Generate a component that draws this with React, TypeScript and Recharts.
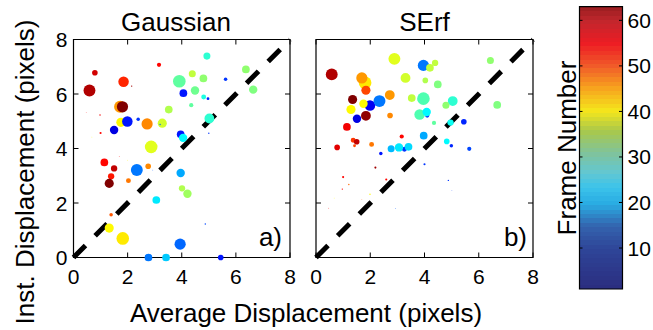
import React from "react";
import {
  ScatterChart,
  Scatter,
  XAxis,
  YAxis,
  ZAxis,
  Cell,
  ReferenceLine,
  ReferenceArea,
  BarChart,
  Bar,
} from "recharts";

// axes
const AXIS_TICKS = [0, 2, 4, 6, 8];
const FRAME_TICKS = [10, 20, 30, 40, 50, 60];
const FRAME_MIN = 1;
const FRAME_MAX = 63;

// Gaussian fit: average vs instantaneous displacement, marker amplitude, frame
const gaussX = [0.79, 0.59, 1.85, 3.16, 2.15, 0.47, 0.98, 1.0, 0.68, 1.72, 1.81, 1.75, 1.99, 2.39, 1.5, 2.72, 3.28, 3.2, 3.52, 3.91, 4.39, 4.8, 4.93, 5.62, 6.37, 6.64, 4.06, 4.49, 4.81, 4.97, 4.35, 5.02, 3.96, 4.05, 5.0, 2.87, 1.69, 1.99, 1.14, 1.5, 1.39, 1.32, 2.03, 2.34, 2.76, 2.93, 3.96, 4.01, 4.21, 3.06, 1.39, 1.32, 1.82, 3.94, 4.87, 2.77, 3.42, 5.44];
const gaussY = [6.78, 6.13, 6.45, 7.07, 6.29, 5.33, 5.23, 4.57, 4.42, 5.53, 5.53, 4.96, 4.99, 5.07, 4.68, 4.9, 4.93, 4.88, 5.43, 6.47, 6.74, 6.57, 7.39, 6.54, 6.9, 6.16, 6.03, 6.13, 5.89, 5.83, 5.59, 5.1, 4.52, 4.39, 4.56, 4.06, 3.71, 3.57, 3.49, 3.27, 2.98, 2.72, 2.82, 3.21, 3.35, 3.21, 3.1, 2.54, 2.34, 2.11, 1.57, 1.08, 0.7, 0.49, 1.23, 0.0, 0.0, 0.0];
const gaussAmp = [64, 289, 225, 36, 4, 1, 4, 9, 1, 289, 256, 169, 225, 25, 144, 256, 169, 4, 121, 324, 100, 121, 100, 25, 121, 144, 121, 144, 49, 16, 36, 196, 121, 144, 4, 324, 1, 1, 121, 81, 81, 169, 49, 289, 64, 1, 144, 81, 144, 121, 25, 169, 324, 256, 4, 121, 121, 64];
const gaussFrame = [58, 60, 53, 55, 61, 55, 56, 55, 40, 46, 63, 40, 10, 12, 7, 47, 37, 15, 35, 30, 36, 33, 27, 12, 33, 32, 10, 31, 26, 11, 30, 27, 10, 24, 12, 38, 55, 40, 55, 59, 54, 63, 48, 16, 47, 14, 19, 35, 34, 23, 50, 40, 41, 15, 13, 16, 21, 10];

// SErf fit
const serfX = [0.58, 1.81, 1.69, 1.84, 2.89, 3.96, 4.2, 4.39, 3.3, 4.03, 4.49, 6.43, 6.68, 1.35, 1.99, 2.34, 1.75, 2.72, 1.29, 1.51, 1.84, 1.14, 3.53, 3.96, 4.1, 3.82, 4.08, 5.04, 4.79, 4.35, 4.96, 5.45, 2.73, 3.16, 1.37, 1.5, 1.42, 0.78, 2.05, 3.97, 2.77, 3.26, 3.06, 3.41, 4.82, 4.99, 5.65, 2.39, 2.19, 4.0, 1.0, 2.59, 1.21, 0.97, 1.99, 1.69, 0.67, 0.47, 2.93, 4.88, 5.01];
const serfY = [6.72, 6.41, 6.59, 6.14, 7.29, 7.05, 6.96, 7.14, 6.59, 6.5, 6.35, 7.23, 5.6, 5.8, 5.58, 5.74, 5.64, 5.96, 5.43, 5.09, 5.2, 4.79, 5.85, 5.83, 5.21, 5.25, 5.34, 5.74, 5.59, 4.94, 4.95, 4.98, 5.21, 4.44, 4.3, 4.25, 4.1, 4.04, 4.15, 4.47, 3.99, 3.97, 4.04, 4.06, 4.26, 4.1, 3.99, 3.82, 3.3, 3.42, 2.95, 2.86, 2.68, 2.51, 2.32, 2.12, 2.18, 1.81, 1.79, 2.83, 2.45];
const serfAmp = [289, 324, 256, 169, 289, 256, 121, 81, 196, 64, 121, 100, 121, 169, 225, 289, 144, 196, 169, 144, 196, 121, 121, 324, 36, 225, 144, 196, 100, 36, 81, 64, 64, 36, 49, 64, 16, 64, 49, 121, 100, 49, 144, 121, 64, 25, 36, 25, 9, 9, 9, 9, 4, 4, 4, 1, 1, 1, 1, 4, 1];
const serfFrame = [60, 41, 46, 51, 38, 16, 36, 36, 37, 35, 32, 33, 32, 63, 8, 16, 40, 46, 40, 7, 62, 56, 36, 29, 12, 29, 24, 27, 33, 30, 25, 11, 47, 55, 52, 59, 51, 57, 48, 19, 20, 12, 23, 22, 24, 11, 13, 10, 61, 12, 55, 55, 49, 55, 40, 50, 40, 55, 14, 12, 12];

const FONT = '"Liberation Sans", Arial, Helvetica, sans-serif';
const TICK_FS = 21;
const LABEL_FS = 26;
const PLOT_TOP = 39.5;
const PLOT_BOTTOM = 257.5;
const TICK_LEN = 5;

// MATLAB jet
function jet(frame: number) {
  const t = (frame - FRAME_MIN) / (FRAME_MAX - FRAME_MIN);
  const f = (c: number) =>
    Math.round(255 * Math.min(1, Math.max(0, 1.5 - Math.abs(4 * t - c))));
  return `rgb(${f(3)},${f(2)},${f(1)})`;
}

// the printed colorbar is a bit washed out compared to the markers
const CB_ANCHORS: [number, string][] = [
  [0, "#2b2d7f"],
  [0.14, "#2e4598"],
  [0.22, "#3462ad"],
  [0.3, "#29abe2"],
  [0.36, "#3cc3ea"],
  [0.41, "#62c7d2"],
  [0.48, "#7fc39c"],
  [0.56, "#a9c84b"],
  [0.63, "#f4e61c"],
  [0.71, "#f7a51e"],
  [0.79, "#f15a29"],
  [0.87, "#ed1c24"],
  [0.95, "#c1272d"],
  [1, "#9a1d20"],
];

function hexToRgb(h: string) {
  return [1, 3, 5].map((i) => parseInt(h.slice(i, i + 2), 16));
}

function cbColor(t: number) {
  let i = 0;
  while (i < CB_ANCHORS.length - 2 && t > CB_ANCHORS[i + 1][0]) i++;
  const [t0, c0] = CB_ANCHORS[i];
  const [t1, c1] = CB_ANCHORS[i + 1];
  const k = Math.min(1, Math.max(0, (t - t0) / (t1 - t0)));
  const a = hexToRgb(c0);
  const b = hexToRgb(c1);
  const m = a.map((v, j) => Math.round(v + (b[j] - v) * k));
  return `rgb(${m[0]},${m[1]},${m[2]})`;
}

const CB_STEPS = 64;

const toRows = (xs: number[], ys: number[], amp: number[], frames: number[]) =>
  xs.map((x, i) => ({ x, y: ys[i], z: amp[i], frame: frames[i] }));

const gaussRows = toRows(gaussX, gaussY, gaussAmp, gaussFrame);
const serfRows = toRows(serfX, serfY, serfAmp, serfFrame);

type PanelProps = {
  rows: { x: number; y: number; z: number; frame: number }[];
  left: number;
  marginLeft: number;
  marginRight: number;
  showYLabels: boolean;
};

function Panel({ rows, left, marginLeft, marginRight, showYLabels }: PanelProps) {
  const width = 300;
  const plotLeft = marginLeft + 60;
  const plotRight = width - marginRight;

  const xTick = (p: any) => (
    <g>
      <line x1={p.x} x2={p.x} y1={PLOT_BOTTOM} y2={PLOT_BOTTOM - TICK_LEN} stroke="#000" />
      <line x1={p.x} x2={p.x} y1={PLOT_TOP} y2={PLOT_TOP + TICK_LEN} stroke="#000" />
      <text x={p.x} y={PLOT_BOTTOM + 26} textAnchor="middle" fontSize={TICK_FS} fill="#000">
        {p.payload.value}
      </text>
    </g>
  );

  const yTick = (p: any) => (
    <g>
      <line x1={plotLeft} x2={plotLeft + TICK_LEN} y1={p.y} y2={p.y} stroke="#000" />
      <line x1={plotRight} x2={plotRight - TICK_LEN} y1={p.y} y2={p.y} stroke="#000" />
      {showYLabels && (
        <text x={plotLeft - 6} y={p.y + 7.5} textAnchor="end" fontSize={TICK_FS} fill="#000">
          {p.payload.value}
        </text>
      )}
    </g>
  );

  return (
    <div style={{ position: "absolute", left, top: 0 }}>
      <ScatterChart
        width={width}
        height={300}
        margin={{ top: PLOT_TOP, right: marginRight, bottom: 12.5, left: marginLeft }}
        style={{ fontFamily: FONT }}
      >
        <XAxis
          type="number"
          dataKey="x"
          domain={[0, 8]}
          ticks={AXIS_TICKS}
          height={30}
          axisLine={false}
          tickLine={false}
          tick={xTick}
        />
        <YAxis
          type="number"
          dataKey="y"
          domain={[0, 8]}
          ticks={AXIS_TICKS}
          width={60}
          axisLine={false}
          tickLine={false}
          tick={yTick}
        />
        <ZAxis type="number" dataKey="z" domain={[0, 324]} range={[0, 125]} />
        <ReferenceArea
          x1={0}
          x2={8}
          y1={0}
          y2={8}
          fill="none"
          fillOpacity={0}
          stroke="#000"
          strokeWidth={1.2}
        />
        <Scatter data={rows} shape="circle" isAnimationActive={false}>
          {rows.map((r, i) => (
            <Cell key={i} fill={jet(r.frame)} />
          ))}
        </Scatter>
        <ReferenceLine
          segment={[
            { x: 0, y: 0 },
            { x: 8, y: 8 },
          ]}
          stroke="#000"
          strokeWidth={5}
          strokeDasharray="17 13.7"
        />
      </ScatterChart>
    </div>
  );
}

function ColorBar() {
  const data = [{ name: "frames", range: [FRAME_MIN, FRAME_MAX] }];
  const barLeft = 19.5;
  const barRight = 62;
  const stops: React.ReactNode[] = [];
  for (let i = 0; i < CB_STEPS; i++) {
    const c = cbColor(1 - (i + 0.5) / CB_STEPS);
    stops.push(<stop key={`a${i}`} offset={i / CB_STEPS} stopColor={c} />);
    stops.push(<stop key={`b${i}`} offset={(i + 1) / CB_STEPS} stopColor={c} />);
  }

  const cbTick = (p: any) => (
    <g>
      <line x1={barLeft} x2={barLeft + 3} y1={p.y} y2={p.y} stroke="#000" />
      <line x1={barRight} x2={barRight - 3} y1={p.y} y2={p.y} stroke="#000" />
      <text x={67.5} y={p.y + 7.5} textAnchor="start" fontSize={TICK_FS} fill="#000">
        {p.payload.value}
      </text>
    </g>
  );

  return (
    <div style={{ position: "absolute", left: 560, top: 0 }}>
      <BarChart
        width={93}
        height={300}
        data={data}
        margin={{ top: 6.7, right: 1, bottom: 11, left: barLeft }}
        barCategoryGap={0}
        style={{ fontFamily: FONT }}
      >
        <defs>
          <linearGradient id="jetBar" x1="0" y1="0" x2="0" y2="1">
            {stops}
          </linearGradient>
        </defs>
        <XAxis dataKey="name" type="category" hide />
        <YAxis
          type="number"
          orientation="right"
          domain={[FRAME_MIN, FRAME_MAX]}
          ticks={FRAME_TICKS}
          width={30}
          axisLine={false}
          tickLine={false}
          tick={cbTick}
        />
        <Bar
          dataKey="range"
          fill="url(#jetBar)"
          stroke="#000"
          strokeWidth={1.2}
          isAnimationActive={false}
        />
      </BarChart>
    </div>
  );
}

export default function App() {
  return (
    <div
      style={{
        position: "absolute",
        left: 0,
        top: 0,
        width: 653,
        height: 330,
        background: "#fff",
        fontFamily: FONT,
      }}
    >
      <Panel rows={gaussRows} left={0} marginLeft={13.5} marginRight={10} showYLabels />
      <Panel rows={serfRows} left={250} marginLeft={6} marginRight={17} showYLabels={false} />
      <ColorBar />
      <svg
        width={653}
        height={330}
        style={{ position: "absolute", left: 0, top: 0, pointerEvents: "none" }}
        fontFamily={FONT}
        fontSize={LABEL_FS}
        fill="#000"
      >
        <text x={176} y={30.7} textAnchor="middle">Gaussian</text>
        <text x={424.5} y={30.7} textAnchor="middle">SErf</text>
        <text x={306} y={322} textAnchor="middle">Average Displacement (pixels)</text>
        <text transform="translate(34,172) rotate(-90)" textAnchor="middle">
          Inst. Displacement (pixels)
        </text>
        <text transform="translate(576,148) rotate(-90)" textAnchor="middle">
          Frame Number
        </text>
        <text x={282} y={245.5} textAnchor="end">a)</text>
        <text x={527} y={245.5} textAnchor="end">b)</text>
      </svg>
    </div>
  );
}
